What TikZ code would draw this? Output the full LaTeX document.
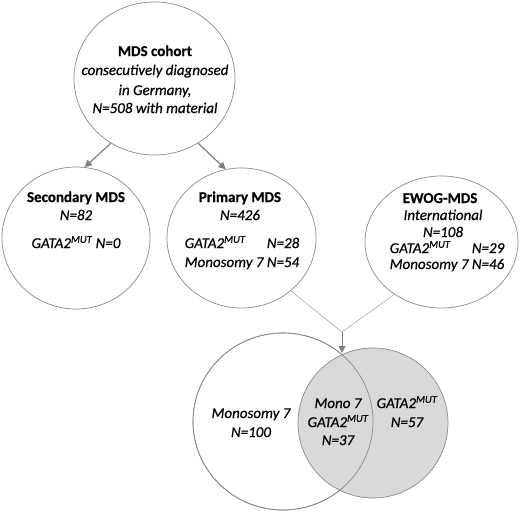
\documentclass[tikz,border=0pt]{standalone}
\usepackage{fontspec}
\setmainfont{Carlito}[FakeBold=0.6]
\usetikzlibrary{shapes.geometric,arrows.meta}
\definecolor{circgray}{HTML}{8A8A8A}
\definecolor{arrgray}{HTML}{7F7F7F}
\definecolor{linegray}{HTML}{A8A8A8}
\definecolor{venngray}{HTML}{D9D9D9}
\begin{document}
\begin{tikzpicture}[x=1pt,y=-1pt,
  circ/.style={ellipse,draw=circgray,line width=0.7pt,inner sep=0pt},
  lbl/.style={font=\fontsize{15}{18}\selectfont\itshape,anchor=base,inner sep=0pt},
  hd/.style={font=\fontsize{15}{18}\selectfont\bfseries,anchor=base,inner sep=0pt},
  arr/.style={draw=arrgray,line width=1.2pt,-{Triangle[length=7pt,width=7pt]}},
  conn/.style={draw=linegray,line width=0.6pt}]
\useasboundingbox (0,0) rectangle (520,512);

% circles
\node[circ,minimum width=161pt,minimum height=153pt] (top) at (154.5,78.5) {};
\node[circ,minimum width=148pt,minimum height=142pt] (sec) at (76,238) {};
\node[circ,minimum width=149pt,minimum height=140pt] (pri) at (241.5,238) {};
\node[circ,minimum width=153pt,minimum height=132pt] (ewog) at (441.5,242) {};

% Venn
\node[circ,fill=white,minimum width=180pt,minimum height=177pt] (vl) at (283,421.5) {};
\node[circ,fill=venngray,minimum width=150pt,minimum height=150pt] (vr) at (373,423) {};
\node[circ,minimum width=180pt,minimum height=177pt] (vl2) at (283,421.5) {};

% texts top
\node[hd] (t1) at (155,56) {MDS cohort};
\node[lbl] (t2) at (155,75) {consecutively diagnosed};
\node[lbl] (t3) at (155,95) {in Germany,};
\node[lbl] (t4) at (155,113) {N=508 with material};

% secondary
\node[hd] (s1) at (76,202) {Secondary MDS};
\node[lbl] (s2) at (76,220) {N=82};
\node[lbl] (s3) at (76,248) {GATA2\textsuperscript{MUT} N=0};

% primary
\node[hd] (p1) at (240,202) {Primary MDS};
\node[lbl] (p2) at (240,220) {N=426};
\node[lbl] (p4) at (242,267) {Monosomy 7 N=54};
\node[lbl,anchor=base west] (p3a) at (p4.west |- 0,248) {GATA2\textsuperscript{MUT}};
\node[lbl,anchor=base east] (p3b) at (p4.east |- 0,248) {N=28};

% ewog
\node[hd] (e1) at (440,203) {EWOG-MDS};
\node[lbl] (e2) at (443,220) {International};
\node[lbl] (e3) at (443,237) {N=108};
\node[lbl] (e5) at (447,269) {Monosomy 7 N=46};
\node[lbl,anchor=base west] (e4a) at (e5.west |- 0,253) {GATA2\textsuperscript{MUT}};
\node[lbl,anchor=base east] (e4b) at (e5.east |- 0,253) {N=29};

% venn texts
\node[lbl] (v1) at (251,418) {Monosomy 7};
\node[lbl] (v2) at (251,437) {N=100};
\node[lbl] (v3) at (338,408) {Mono 7};
\node[lbl] (v4) at (338,427) {GATA2\textsuperscript{MUT}};
\node[lbl] (v5) at (338,445) {N=37};
\node[lbl] (v6) at (407,408) {GATA2\textsuperscript{MUT}};
\node[lbl] (v7) at (407,427) {N=57};

% arrows
\draw[arr] (top.236) -- (sec.83);
\draw[arr] (top.304) -- (pri.103);

\coordinate (meet) at (342,332);
\coordinate (tip) at (342,353);
\draw[conn] (pri.313) -- (meet);
\draw[conn] (ewog.228) -- (meet);
\draw[arr,line width=1pt] (meet) -- (tip);
\end{tikzpicture}
\end{document}
